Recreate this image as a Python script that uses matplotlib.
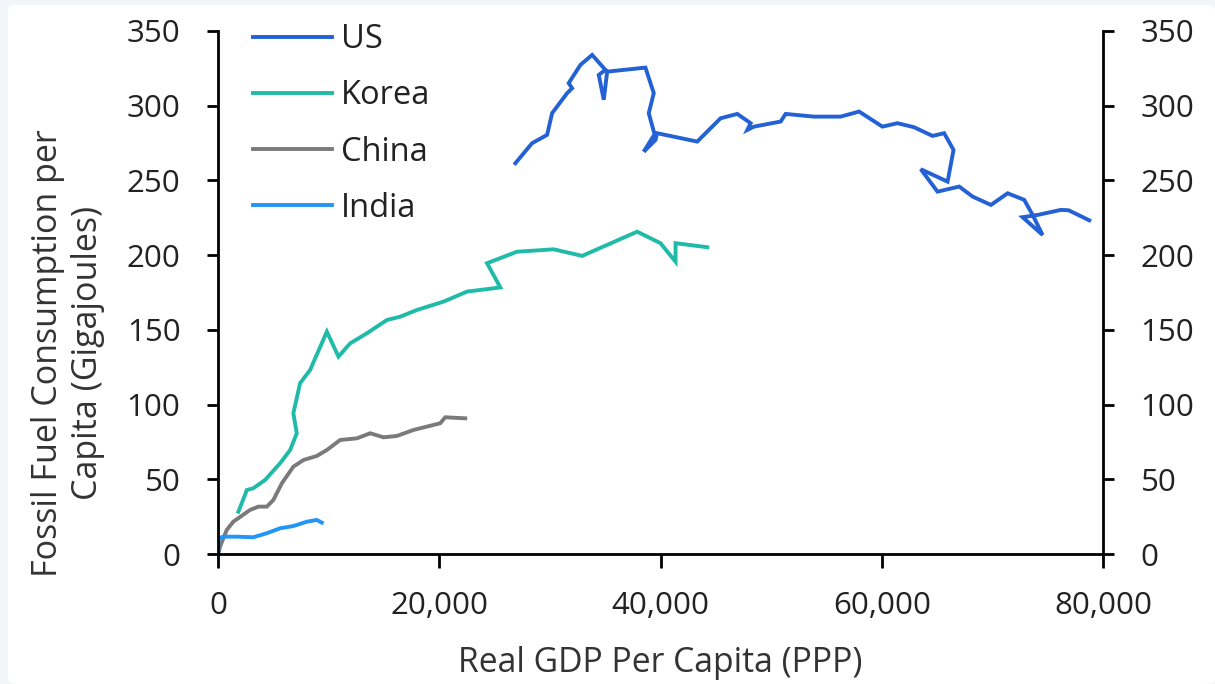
import matplotlib
matplotlib.use("Agg")
import matplotlib.pyplot as plt
from matplotlib.ticker import FuncFormatter, MultipleLocator
from matplotlib.patches import FancyBboxPatch

plt.rcParams['font.family'] = ['Open Sans', 'DejaVu Sans']

us_x = [26880, 28390, 29750, 30200, 31560, 32010, 31700, 32760, 33820, 35020, 34420, 34870,
        35180, 38640, 39390, 38940, 39460, 38490, 39550, 39700, 43320, 45430, 46940, 48150,
        47850, 48450, 50860, 51310, 53870, 56290, 57950, 60060, 61420, 62920, 64590, 65640,
        66490, 65950, 63530, 65040, 67000, 68210, 69870, 71380, 72880, 73640, 74540, 72730,
        74090, 76200, 76900, 78760]
us_y = [261.5, 274.9, 280.5, 295.0, 308.4, 311.7, 315.1, 327.3, 334.0, 324.0, 320.6, 304.0,
        322.8, 325.5, 308.4, 295.0, 280.9, 269.3, 277.1, 281.6, 276.0, 291.6, 294.5, 288.3,
        283.8, 286.0, 289.4, 294.5, 292.7, 292.7, 296.1, 286.0, 288.3, 285.6, 279.8, 281.6,
        270.4, 249.2, 257.5, 242.5, 245.9, 239.2, 233.6, 241.4, 237.0, 226.9, 213.5, 225.4,
        226.9, 230.3, 230.0, 223.3]

korea_x = [1840, 2440, 2600, 3190, 4250, 5610, 6520, 7120, 6810, 7420, 8330, 9840, 10890,
           11950, 13460, 15270, 16470, 17980, 20390, 22510, 25520, 24320, 27030, 30350,
           32920, 37890, 40000, 41360, 41360, 44230]
korea_y = [28.3, 39.5, 42.8, 44.0, 49.5, 60.7, 69.6, 80.8, 94.2, 114.3, 123.2, 148.8, 132.1,
           141.0, 147.7, 156.6, 158.8, 163.3, 168.9, 175.6, 178.4, 194.6, 202.3, 203.9,
           199.5, 215.7, 208.0, 195.6, 208.0, 205.3]

china_x = [100, 180, 790, 1380, 2900, 3650, 4410, 5000, 5770, 6810, 7720, 8930, 9840, 11040,
           12550, 13760, 14960, 16170, 17670, 20090, 20540, 22350]
china_y = [2.0, 4.9, 16.1, 21.6, 29.5, 31.7, 31.7, 36.1, 47.3, 58.4, 62.9, 65.6, 69.6, 76.3,
           77.4, 80.8, 78.1, 79.0, 83.0, 87.5, 91.5, 90.8]

india_x = [30, 30, 480, 1690, 3190, 4410, 5610, 6810, 8030, 8930, 9380]
india_y = [2.7, 10.5, 11.6, 11.6, 11.2, 13.9, 17.2, 18.7, 21.6, 22.8, 21.0]

series = [
    ("US", us_x, us_y, "#2461d4"),
    ("Korea", korea_x, korea_y, "#20bba8"),
    ("China", china_x, china_y, "#7a7a7a"),
    ("India", india_x, india_y, "#2196f6"),
]

fig = plt.figure(figsize=(12.15, 6.84), dpi=100)
fig.patch.set_facecolor('#f3f5f8')
fig.patches.append(FancyBboxPatch((8/1215, 0), 1 - 8/1215, 1 - 5/684,
                                  boxstyle="round,pad=0,rounding_size=0.008",
                                  transform=fig.transFigure, facecolor='white',
                                  edgecolor='none', zorder=-10))

ax = fig.add_axes([218/1215, 1-554/684, (1103-218)/1215, (554-31)/684])
ax.set_facecolor('none')

for name, xs, ys, c in series:
    ax.plot(xs, ys, color=c, lw=2.8, label=name, solid_joinstyle='miter')

ax.set_xlim(0, 80000)
ax.set_ylim(0, 350)
ax.xaxis.set_major_locator(MultipleLocator(20000))
ax.yaxis.set_major_locator(MultipleLocator(50))
ax.xaxis.set_major_formatter(FuncFormatter(lambda v, p: f"{int(v):,}"))

ax.spines['top'].set_visible(False)
for s in ['left', 'right', 'bottom']:
    ax.spines[s].set_linewidth(2.0)
    ax.spines[s].set_color('black')

ax.tick_params(axis='y', which='both', left=True, right=True, labelleft=True, labelright=True,
               direction='out', length=8, width=2.0, pad=19, labelsize=22.5)
ax.tick_params(axis='x', direction='out', length=10, width=2.0, pad=17, labelsize=22.5)
for lab in ax.get_yticklabels() + ax.get_xticklabels():
    lab.set_color('#222222')

ax.set_xlabel("Real GDP Per Capita (PPP)", fontsize=24.3, color='#333333')
ax.xaxis.set_label_coords(0.5, -0.176)
ax.set_ylabel("Fossil Fuel Consumption per\nCapita (Gigajoules)", fontsize=24.5, color='#333333',
              linespacing=1.22)
ax.yaxis.set_label_coords(-0.128, 0.385)

leg = ax.legend(loc='upper left', bbox_to_anchor=(0.04, 1.015), frameon=False, fontsize=23.5,
                handlelength=2.4, handletextpad=0.27, labelspacing=0.71, borderpad=0,
                borderaxespad=0)
for t in leg.get_texts():
    t.set_color('#222222')

fig.savefig("out.png", dpi=100, facecolor=fig.get_facecolor())
